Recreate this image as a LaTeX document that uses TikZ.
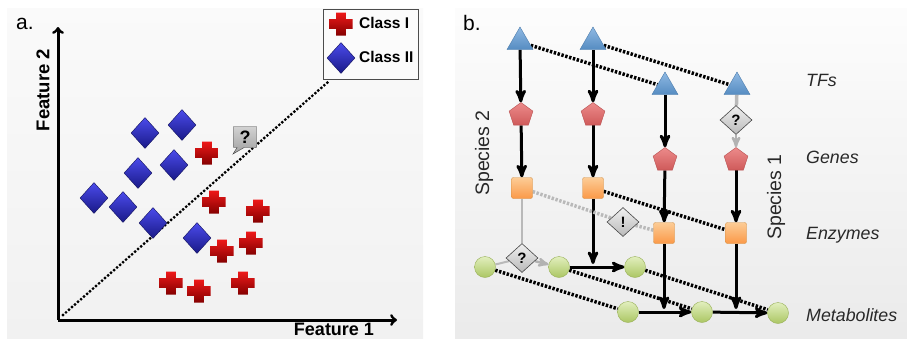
\documentclass[tikz,border=0pt]{standalone}
\usepackage{fontspec}
\setmainfont{Liberation Sans}
\usetikzlibrary{arrows,shapes.geometric,shapes.callouts}

\definecolor{crossred}{RGB}{240,25,25}
\definecolor{crossdark}{RGB}{130,0,0}
\definecolor{diamblue}{RGB}{75,75,235}
\definecolor{diamdark}{RGB}{25,25,135}
\definecolor{tfblue}{RGB}{95,155,215}
\definecolor{genered}{RGB}{230,100,100}
\definecolor{enzorange}{RGB}{250,170,80}
\definecolor{metgreen}{RGB}{190,220,110}
\definecolor{labelgray}{RGB}{40,40,40}

\pgfdeclarelayer{back}
\pgfdeclarelayer{edges}
\pgfsetlayers{back,edges,main}

\newcommand{\fsize}[1]{\fontsize{#1}{#1}\selectfont}

\begin{document}
\begin{tikzpicture}[x=1pt,y=-1pt,>=stealth',
    cross node/.style={minimum size=24pt,inner sep=0pt,
      path picture={\shade[shift={(path picture bounding box.center)},top color=crossred,bottom color=crossdark]
        (-4.8,-11.5) -- (4.8,-11.5) -- (4.8,-4.8) -- (11.5,-4.8) -- (11.5,4.8) -- (4.8,4.8) -- (4.8,11.5)
        -- (-4.8,11.5) -- (-4.8,4.8) -- (-11.5,4.8) -- (-11.5,-4.8) -- (-4.8,-4.8) -- cycle;}},
    diamond node/.style={diamond,inner sep=0pt,minimum width=28pt,minimum height=31pt,
      top color=diamblue,bottom color=diamdark,draw=diamdark!70!black,thin},
    tf node/.style={regular polygon,regular polygon sides=3,minimum size=30pt,inner sep=0pt,
      top color=tfblue!70!white,bottom color=tfblue!90!black,draw=tfblue!80!black,thin},
    gene node/.style={regular polygon,regular polygon sides=5,minimum size=25pt,inner sep=0pt,
      top color=genered!75!white,bottom color=genered!90!black,draw=genered!80!black,thin},
    enzyme node/.style={rectangle,rounded corners=2pt,minimum size=21pt,inner sep=0pt,
      top color=enzorange!60!white,bottom color=enzorange!90!red,draw=enzorange!85!black,thin},
    met node/.style={circle,minimum size=21pt,inner sep=0pt,
      top color=metgreen!45!white,bottom color=metgreen!90!black,draw=metgreen!80!black,thin},
    query node/.style={diamond,inner sep=0pt,minimum width=32pt,minimum height=29pt,
      top color=gray!12,bottom color=gray!55,draw=gray!55!black,semithick,font=\bfseries\fsize{15}},
    axis/.style={-to,line width=3pt},
    flow/.style={->,line width=3pt},
    grey flow/.style={->,line width=2.4pt,gray!60},
    link/.style={line width=3.5pt,dash pattern=on 2.4pt off 1.6pt},
    grey link/.style={link,gray!55},
    level/.style={anchor=west,inner sep=0pt,font=\itshape\fsize{17.8},text=labelgray}]

  \useasboundingbox (0,0) rectangle (907,338);

  % panel backdrops
  \begin{pgfonlayer}{back}
    \shade[top color=white!96!gray,bottom color=white!89!gray] (7,8) rectangle (423,338);
    \shade[top color=white!98!gray,bottom color=white!84!gray] (455,8) rectangle (907,338);
  \end{pgfonlayer}

  %%% a. feature space
  \node[anchor=base west,inner sep=0pt,font=\fsize{21}] (alabel) at (16,29) {a.};

  \coordinate (O) at (58,320);
  \coordinate (ytip) at (58,27);
  \coordinate (xtip) at (397,320);
  \draw[axis] (O) -- (ytip);
  \draw[axis] (O) -- (xtip);
  \node[rotate=90,font=\bfseries\fsize{18.5}] (ylab) at (43,90) {Feature 2};
  \node[anchor=base,font=\bfseries\fsize{18}] (xlab) at (334,335) {Feature 1};

  \coordinate (sepa) at (63,315);
  \coordinate (sepb) at (328,82);
  \draw[line width=3.2pt,line cap=round,dash pattern=on 0pt off 4pt] (sepa) -- (sepb);

  \node[diamond node] (d1) at (145,133) {};
  \node[diamond node] (d2) at (182,125) {};
  \node[diamond node] (d3) at (138,173) {};
  \node[diamond node] (d4) at (174,165) {};
  \node[diamond node] (d5) at (94,198) {};
  \node[diamond node] (d6) at (123,207) {};
  \node[diamond node] (d7) at (153,223) {};
  \node[diamond node] (d8) at (197,238) {};

  \node[cross node] (c1) at (207,153) {};
  \node[cross node] (c2) at (214,202) {};
  \node[cross node] (c3) at (258,211) {};
  \node[cross node] (c4) at (251,243) {};
  \node[cross node] (c5) at (222,251) {};
  \node[cross node] (c6) at (171,283) {};
  \node[cross node] (c7) at (199,291) {};
  \node[cross node] (c8) at (243,283) {};

  \node[rectangle callout,callout absolute pointer={(233,154)},minimum width=23pt,minimum height=21pt,
    inner sep=0pt,top color=gray!35,bottom color=gray!75,draw=gray!50!black,thin,
    font=\bfseries\fsize{18}] (unknown) at (245,137) {?};

  % legend
  \draw[gray!60!black,line width=1pt,fill=white!97!gray] (323,9) rectangle (418,79);
  \node[cross node] (lcross) at (341,24) {};
  \node[diamond node] (ldiam) at (341,58) {};
  \node[anchor=west,inner sep=0pt,font=\bfseries\fsize{15.5}] (lone) at (359,23) {Class I};
  \node[anchor=west,inner sep=0pt,font=\bfseries\fsize{15.5}] (ltwo) at (359,57) {Class II};

  %%% b. two species
  \node[anchor=base west,inner sep=0pt,font=\fsize{21}] (blabel) at (463,30) {b.};

  \node[tf node] (t1) at (520,42) {};
  \node[tf node] (t2) at (593,42) {};
  \node[tf node] (t3) at (665,87) {};
  \node[tf node] (t4) at (737,87) {};

  \node[gene node] (g1) at (521,115) {};
  \node[gene node] (g2) at (593,115) {};
  \node[gene node] (g3) at (665,160) {};
  \node[gene node] (g4) at (736,160) {};

  \node[enzyme node] (e1) at (522,188) {};
  \node[enzyme node] (e2) at (593,188) {};
  \node[enzyme node] (e3) at (664,233) {};
  \node[enzyme node] (e4) at (736,233) {};

  \node[met node] (m1) at (485,267) {};
  \node[met node] (m2) at (559,267) {};
  \node[met node] (m3) at (635,267) {};
  \node[met node] (m4) at (628,312) {};
  \node[met node] (m5) at (702,312) {};
  \node[met node] (m6) at (778,313) {};

  \node[query node] (q1) at (736,120) {?};
  \node[query node] (q2) at (623,222) {!};
  \node[query node] (q3) at (522,258) {?};

  \node[level] (tfs) at (806,80) {TFs};
  \node[level] (genes) at (806,157) {Genes};
  \node[level] (enz) at (806,235) {Enzymes};
  \node[level] (mets) at (806,315) {Metabolites};

  \node[rotate=90,font=\fsize{19.5},text=labelgray] (sp2) at (484,153) {Species 2};
  \node[rotate=90,font=\fsize{19.5},text=labelgray] (sp1) at (776,197) {Species 1};

  \begin{pgfonlayer}{edges}
    % regulation inside each species
    \draw[flow] (t1) -- (g1);
    \draw[flow] (g1) -- (e1);
    \draw[flow] (t2) -- (g2);
    \draw[flow] (g2) -- (e2);
    \draw[flow] (t3) -- (g3);
    \draw[flow] (g3) -- (e3);
    \draw[flow] (g4) -- (e4);
    \draw[gray!55,line width=3.5pt] (t4) -- (q1);
    \draw[grey flow] (q1) -- (g4);

    % catalysed reactions
    \draw[gray!55,line width=1.4pt] (e1) -- (q3);
    \draw[gray!55,line width=2pt] (m1) -- (q3);
    \draw[grey flow] (q3) -- (m2);
    \draw[flow] (m2) -- (m3);
    \draw[flow,shorten >=3pt] (e2) -- (e2 |- m2);
    \draw[flow] (m4) -- (m5);
    \draw[flow] (m5) -- (m6);
    \draw[flow,shorten >=3pt] (e3) -- (e3 |- m4);
    \draw[flow,shorten >=3pt] (e4) -- (e4 |- m5);

    % orthologues across species
    \draw[link] (t1) -- (t3);
    \draw[link] (t2) -- (t4);
    \draw[link] (e2) -- (e4);
    \draw[grey link] (e1) -- (q2) -- (e3);
    \draw[link] (m1) -- (m4);
    \draw[link] (m2) -- (m5);
    \draw[link] (m3) -- (m6);
  \end{pgfonlayer}
\end{tikzpicture}
\end{document}
